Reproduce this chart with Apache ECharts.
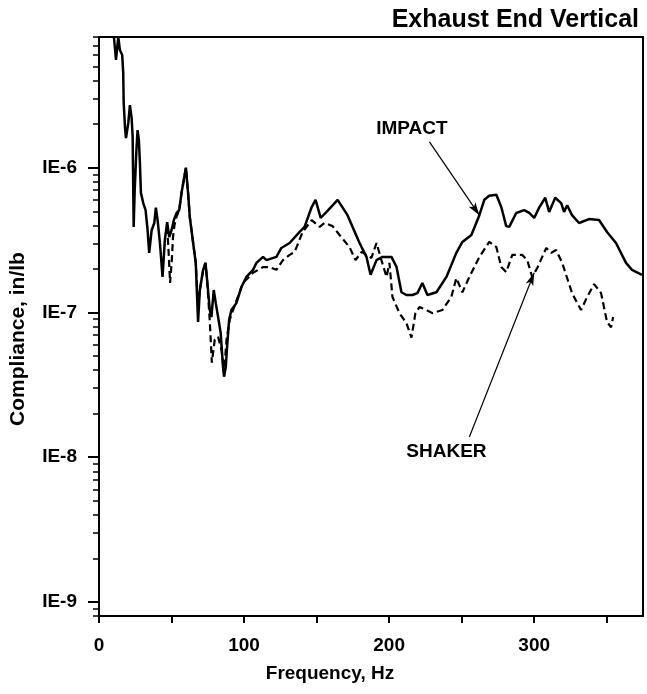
<!DOCTYPE html>
<html lang="en">
<head>
    <meta charset="utf-8" />
    <title>Exhaust End Vertical</title>
    <style>
        html, body { margin: 0; padding: 0; background: #fff; }
        #main { width: 647px; height: 694px; }
    </style>
</head>
<body>
    <div id="main"></div>
    <script src="https://cdn.jsdelivr.net/npm/echarts@6/dist/echarts.min.js"></script>
    <script>
    // impact test (solid)
    var impactHz = [10.3, 11.7, 13.3, 14.4, 16.0, 16.7, 17.0, 17.9, 18.6, 20.2,
        21.3, 22.5, 23.2, 23.9, 24.6, 25.9, 26.6, 27.5, 28.2, 28.9,
        30.5, 32.1, 33.5, 34.6, 36.3, 38.1, 39.2, 40.4, 42.0, 43.8,
        45.4, 47.0, 48.4, 50.0, 51.6, 53.5, 55.3, 56.9, 59.9, 61.4,
        62.6, 64.9, 66.7, 68.3, 69.5, 71.8, 73.4, 74.5, 76.4, 77.5,
        79.1, 80.5, 82.1, 83.9, 85.5, 86.2, 87.4, 88.3, 89.7, 91.3,
        94.7, 98.2, 101.6, 106.2, 108.5, 113.1, 115.4, 122.3, 125.7, 131.4,
        138.3, 141.7, 146.6, 149.3, 152.8, 156.9, 164.5, 171.3, 179.6, 184.4,
        187.2, 191.3, 195.4, 201.6, 205.1, 208.5, 211.9, 216.1, 219.5, 222.9,
        226.4, 232.6, 239.5, 246.3, 250.5, 256.7, 262.2, 265.6, 269.0, 273.9,
        277.3, 280.7, 282.8, 287.6, 293.1, 296.6, 300.0, 303.4, 307.6, 310.3,
        314.5, 318.6, 320.6, 322.7, 326.1, 330.9, 337.8, 344.7, 350.2, 356.4,
        363.3, 367.4, 374.3];
    var impactVal = [8.0e-6, 5.55e-6, 8.0e-6, 6.5e-6, 6.0e-6, 4.5e-6, 2.84e-6, 1.91e-6, 1.6e-6, 2.04e-6,
        2.71e-6, 2.2e-6, 1.63e-6, 3.9e-7, 7.0e-7, 1.39e-6, 1.82e-6, 1.55e-6, 1.08e-6, 6.7e-7,
        5.7e-7, 5.1e-7, 3.7e-7, 2.58e-7, 3.7e-7, 4.15e-7, 5.3e-7, 4.35e-7, 3.02e-7, 1.76e-7,
        3.17e-7, 4.2e-7, 3.32e-7, 3.7e-7, 4.35e-7, 4.87e-7, 5.1e-7, 6.7e-7, 1.0e-6, 6.7e-7,
        4.56e-7, 3.02e-7, 2.2e-7, 8.6e-8, 1.43e-7, 1.97e-7, 2.2e-7, 1.68e-7, 1.04e-7, 9.3e-8,
        1.43e-7, 1.16e-7, 9.3e-8, 7.2e-8, 4.2e-8, 3.6e-8, 4.2e-8, 5.8e-8, 8.9e-8, 1.04e-7,
        1.16e-7, 1.5e-7, 1.76e-7, 1.97e-7, 2.2e-7, 2.42e-7, 2.3e-7, 2.42e-7, 2.79e-7, 3.02e-7,
        3.6e-7, 3.9e-7, 5.35e-7, 6.0e-7, 4.5e-7, 4.95e-7, 6.0e-7, 4.7e-7, 3.02e-7, 2.42e-7,
        1.82e-7, 2.3e-7, 2.42e-7, 2.42e-7, 2.06e-7, 1.38e-7, 1.32e-7, 1.32e-7, 1.36e-7, 1.6e-7,
        1.32e-7, 1.38e-7, 1.76e-7, 2.58e-7, 3.07e-7, 3.43e-7, 4.7e-7, 6.0e-7, 6.4e-7, 6.5e-7,
        5.35e-7, 3.95e-7, 3.9e-7, 4.87e-7, 5.1e-7, 4.87e-7, 4.5e-7, 5.3e-7, 6.2e-7, 4.95e-7,
        6.2e-7, 5.7e-7, 4.95e-7, 5.5e-7, 4.7e-7, 4.15e-7, 4.42e-7, 4.35e-7, 3.6e-7, 3.02e-7,
        2.2e-7, 1.97e-7, 1.82e-7];

    // shaker test (dashed)
    var shakerHz = [47.0, 48.0, 49.0, 50.2, 51.0, 52.0, 53.5, 55.3, 56.9, 59.9,
        61.4, 62.6, 64.9, 66.7, 68.3, 69.5, 71.8, 73.4, 74.5, 76.4,
        77.8, 79.8, 82.1, 84.5, 86.2, 87.9, 90.1, 92.4, 99.3, 106.2,
        113.1, 117.7, 122.3, 126.8, 131.4, 134.9, 140.4, 146.6, 152.1, 155.5,
        161.0, 165.8, 172.7, 176.8, 181.0, 187.8, 191.3, 194.7, 198.2, 200.2,
        202.3, 207.1, 211.9, 215.4, 218.1, 220.9, 225.7, 229.8, 236.7, 242.9,
        246.3, 250.5, 255.3, 262.2, 269.0, 273.9, 277.3, 280.7, 284.9, 291.7,
        295.2, 298.6, 302.1, 308.3, 311.7, 315.1, 319.3, 326.1, 332.3, 336.5,
        341.3, 346.1, 350.2, 353.0, 354.4];
    var shakerVal = [3.9e-7, 2.6e-7, 1.6e-7, 2.3e-7, 3.3e-7, 4.0e-7, 4.6e-7, 5.1e-7, 6.7e-7, 1.0e-6,
        6.7e-7, 4.56e-7, 3.02e-7, 2.2e-7, 1.1e-7, 1.43e-7, 1.97e-7, 2.2e-7, 1.68e-7, 8.6e-8,
        4.5e-8, 6.5e-8, 6.8e-8, 5.5e-8, 3.8e-8, 6.5e-8, 8.9e-8, 1.04e-7, 1.6e-7, 1.88e-7,
        2.06e-7, 2.06e-7, 1.97e-7, 2.3e-7, 2.5e-7, 2.62e-7, 3.6e-7, 4.35e-7, 3.9e-7, 4.15e-7,
        3.95e-7, 3.43e-7, 2.83e-7, 2.3e-7, 2.62e-7, 2.38e-7, 3.02e-7, 2.3e-7, 1.76e-7, 2.2e-7,
        1.28e-7, 9.9e-8, 8.45e-8, 6.7e-8, 9.9e-8, 1.09e-7, 1.04e-7, 9.9e-8, 1.04e-7, 1.28e-7,
        1.73e-7, 1.38e-7, 1.76e-7, 2.42e-7, 3.07e-7, 2.83e-7, 2.06e-7, 1.9e-7, 2.5e-7, 2.5e-7,
        2.3e-7, 1.76e-7, 2.03e-7, 2.79e-7, 2.58e-7, 2.7e-7, 2.2e-7, 1.36e-7, 1.04e-7, 1.28e-7,
        1.57e-7, 1.36e-7, 8.6e-8, 7.9e-8, 9.3e-8];

    // axis labels
    var xLabelValues = [0, 100, 200, 300];
    var yDecades = [-9, -8, -7, -6];

    // callouts: text position, arrow start, arrow end
    var impactText = [215.7, 1.85e-6];
    var impactArrow = [[227.8, 1.51e-6], [262.2, 4.7e-7]];
    var shakerText = [239.5, 1.09e-8];
    var shakerArrow = [[255.3, 1.38e-8], [300.0, 1.88e-7]];

    var yMin = 8e-10;
    var yMax = 8e-6;
    var font = 'Liberation Sans, Arial, Helvetica, sans-serif';

    function zip(xs, ys) {
        return xs.map(function (x, i) { return [x, ys[i]]; });
    }

    // minor ticks 2..9 of every decade, in log10 units for the helper axis
    var minorTicks = [];
    for (var n = -10; n <= -6; n++) {
        for (var k = 2; k <= 9; k++) {
            var v = k * Math.pow(10, n);
            if (v >= yMin * 0.999 && v <= yMax * 1.001) minorTicks.push(Math.log10(v));
        }
    }

    var labelStyle = {
        color: '#000',
        fontWeight: 'bold',
        fontSize: 19,
        fontFamily: font
    };

    var myChart = echarts.init(document.getElementById('main'), null, { renderer: 'canvas' });
    var option = {
        animation: false,
        backgroundColor: '#fff',
        title: {
            text: 'Exhaust End Vertical',
            right: 3,
            top: 3,
            textStyle: { color: '#000', fontWeight: 'bold', fontSize: 25, fontFamily: font }
        },
        grid: {
            left: 99,
            right: 4,
            top: 37,
            bottom: 78,
            show: true,
            borderColor: '#000',
            borderWidth: 2
        },
        xAxis: {
            type: 'value',
            min: 0,
            max: 375,
            interval: 50,
            name: 'Frequency, Hz',
            nameLocation: 'middle',
            nameGap: 48,
            nameTextStyle: { color: '#000', fontWeight: 'bold', fontSize: 19, fontFamily: font, padding: [0, 82, 0, 0] },
            axisLine: { lineStyle: { color: '#000', width: 2 } },
            axisTick: { inside: false, length: 7, lineStyle: { color: '#000', width: 2 } },
            axisLabel: Object.assign({}, labelStyle, {
                margin: 20,
                showMaxLabel: false,
                formatter: function (v) {
                    return xLabelValues.indexOf(v) >= 0 ? String(v) : '';
                }
            }),
            splitLine: { show: false }
        },
        yAxis: [{
            type: 'log',
            logBase: 10,
            min: yMin,
            max: yMax,
            name: 'Compliance, in/lb',
            nameLocation: 'middle',
            nameGap: 70,
            nameTextStyle: { color: '#000', fontWeight: 'bold', fontSize: 21, fontFamily: font, padding: [0, 25, 0, 0] },
            axisLine: { lineStyle: { color: '#000', width: 2 } },
            axisTick: { inside: false, length: 11, lineStyle: { color: '#000', width: 2 } },
            axisLabel: Object.assign({}, labelStyle, {
                margin: 22,
                showMinLabel: false,
                showMaxLabel: false,
                formatter: function (v) {
                    var p = Math.round(Math.log10(v));
                    if (Math.abs(Math.log10(v) - p) > 1e-6 || yDecades.indexOf(p) < 0) return '';
                    return 'IE' + p;
                }
            }),
            splitLine: { show: false }
        }, {
            // helper axis only for the 2..9 minor ticks
            type: 'value',
            position: 'left',
            min: Math.log10(yMin),
            max: Math.log10(yMax),
            axisLine: { show: false },
            axisLabel: { show: false },
            axisTick: { show: true, inside: false, length: 6, customValues: minorTicks, lineStyle: { color: '#000', width: 1.5 } },
            splitLine: { show: false }
        }],
        series: [{
            name: 'SHAKER',
            type: 'line',
            data: zip(shakerHz, shakerVal),
            showSymbol: false,
            symbol: 'none',
            lineStyle: { color: '#000', width: 2.2, type: [7, 4] },
            markPoint: {
                symbol: 'circle',
                symbolSize: 0,
                label: Object.assign({}, labelStyle, { show: true, position: 'inside', formatter: 'SHAKER' }),
                data: [{ coord: shakerText }]
            },
            markLine: {
                silent: true,
                symbol: ['none', 'arrow'],
                symbolSize: [6, 13],
                label: { show: false },
                lineStyle: { color: '#000', width: 1.2, type: 'solid' },
                data: [[{ coord: shakerArrow[0] }, { coord: shakerArrow[1] }]]
            }
        }, {
            name: 'IMPACT',
            type: 'line',
            data: zip(impactHz, impactVal),
            showSymbol: false,
            symbol: 'none',
            lineStyle: { color: '#000', width: 2.5 },
            markPoint: {
                symbol: 'circle',
                symbolSize: 0,
                label: Object.assign({}, labelStyle, { show: true, position: 'inside', formatter: 'IMPACT' }),
                data: [{ coord: impactText }]
            },
            markLine: {
                silent: true,
                symbol: ['none', 'arrow'],
                symbolSize: [6, 13],
                label: { show: false },
                lineStyle: { color: '#000', width: 1.2, type: 'solid' },
                data: [[{ coord: impactArrow[0] }, { coord: impactArrow[1] }]]
            }
        }]
    };
    myChart.setOption(option);
    </script>
</body>
</html>
